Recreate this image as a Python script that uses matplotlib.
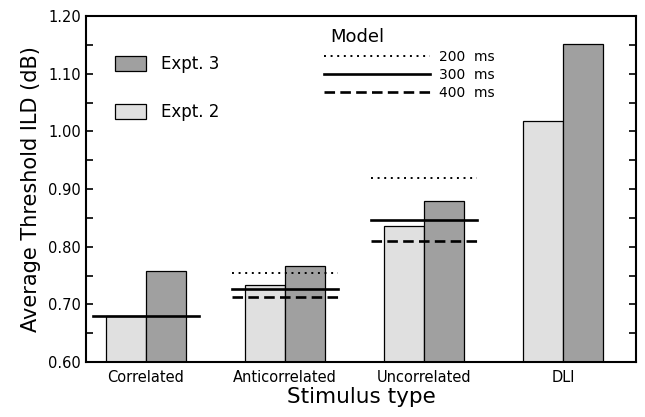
import matplotlib.pyplot as plt
from matplotlib.patches import Patch
from matplotlib.lines import Line2D
import numpy as np

categories = ["Correlated", "Anticorrelated", "Uncorrelated", "DLI"]
expt2 = [0.679, 0.734, 0.835, 1.018]
expt3 = [0.757, 0.766, 0.879, 1.151]

# model predictions (None = not drawn)
model_200 = [None, 0.754, 0.919, None]
model_300 = [0.680, 0.727, 0.846, None]
model_400 = [None, 0.713, 0.809, None]
model_labels = ["200  ms", "300  ms", "400  ms"]

light = "#e0e0e0"
dark = "#a0a0a0"

fig = plt.figure(figsize=(6.45, 4.17), dpi=100)
ax = fig.add_axes([0.1333, 0.1319, 0.8527, 0.8297])

x = np.arange(len(categories))
w = 0.288
ax.bar(x - w / 2, expt2, w, bottom=0, color=light, edgecolor="black", linewidth=0.9)
ax.bar(x + w / 2, expt3, w, bottom=0, color=dark, edgecolor="black", linewidth=0.9)

half = 0.38
styles = [(model_200, (0, (1, 2.4)), 1.4), (model_300, "-", 1.9), (model_400, (0, (4, 2)), 1.9)]
for vals, ls, lw in styles:
    for xi, v in zip(x, vals):
        if v is None:
            continue
        ax.plot([xi - half, xi + half], [v, v], color="black", linestyle=ls, linewidth=lw)

ax.set_xlim(-0.43, 3.525)
ax.set_ylim(0.60, 1.20)
ax.set_yticks(np.arange(0.60, 1.201, 0.10))
ax.set_yticklabels(["%.2f" % v for v in np.arange(0.60, 1.201, 0.10)])
ax.set_yticks(np.arange(0.65, 1.2, 0.10), minor=True)
ax.set_xticks(x)
ax.set_xticklabels(categories, fontsize=10.5)
ax.tick_params(axis="x", length=0, pad=6)
ax.tick_params(axis="y", which="both", direction="in", right=True, length=5, width=1.2, labelsize=10.5)
for s in ax.spines.values():
    s.set_linewidth(1.5)

ax.set_ylabel("Average Threshold ILD (dB)", fontsize=15, labelpad=5)
ax.set_xlabel("Stimulus type", fontsize=15.5, labelpad=1)

h1 = [Patch(facecolor=dark, edgecolor="black", linewidth=0.9),
      Patch(facecolor=light, edgecolor="black", linewidth=0.9)]
leg1 = ax.legend(h1, ["Expt. 3", "Expt. 2"], loc="upper left", bbox_to_anchor=(0.053, 0.888),
                 frameon=False, fontsize=12, handlelength=1.85, handleheight=1.0,
                 labelspacing=1.8, handletextpad=0.9, borderpad=0, borderaxespad=0)
ax.add_artist(leg1)

h2 = [Line2D([], [], color="black", linestyle=ls, linewidth=lw) for _, ls, lw in styles]
leg2 = ax.legend(h2, model_labels, title="Model", loc="upper left", bbox_to_anchor=(0.433, 0.966),
                 frameon=False, fontsize=10, title_fontsize=13, handlelength=7.6,
                 labelspacing=0.3, handletextpad=0.7, borderpad=0, borderaxespad=0,
                 alignment="left")
leg2.get_title().set_position((6, 0))

fig.savefig("out.png", dpi=100)
